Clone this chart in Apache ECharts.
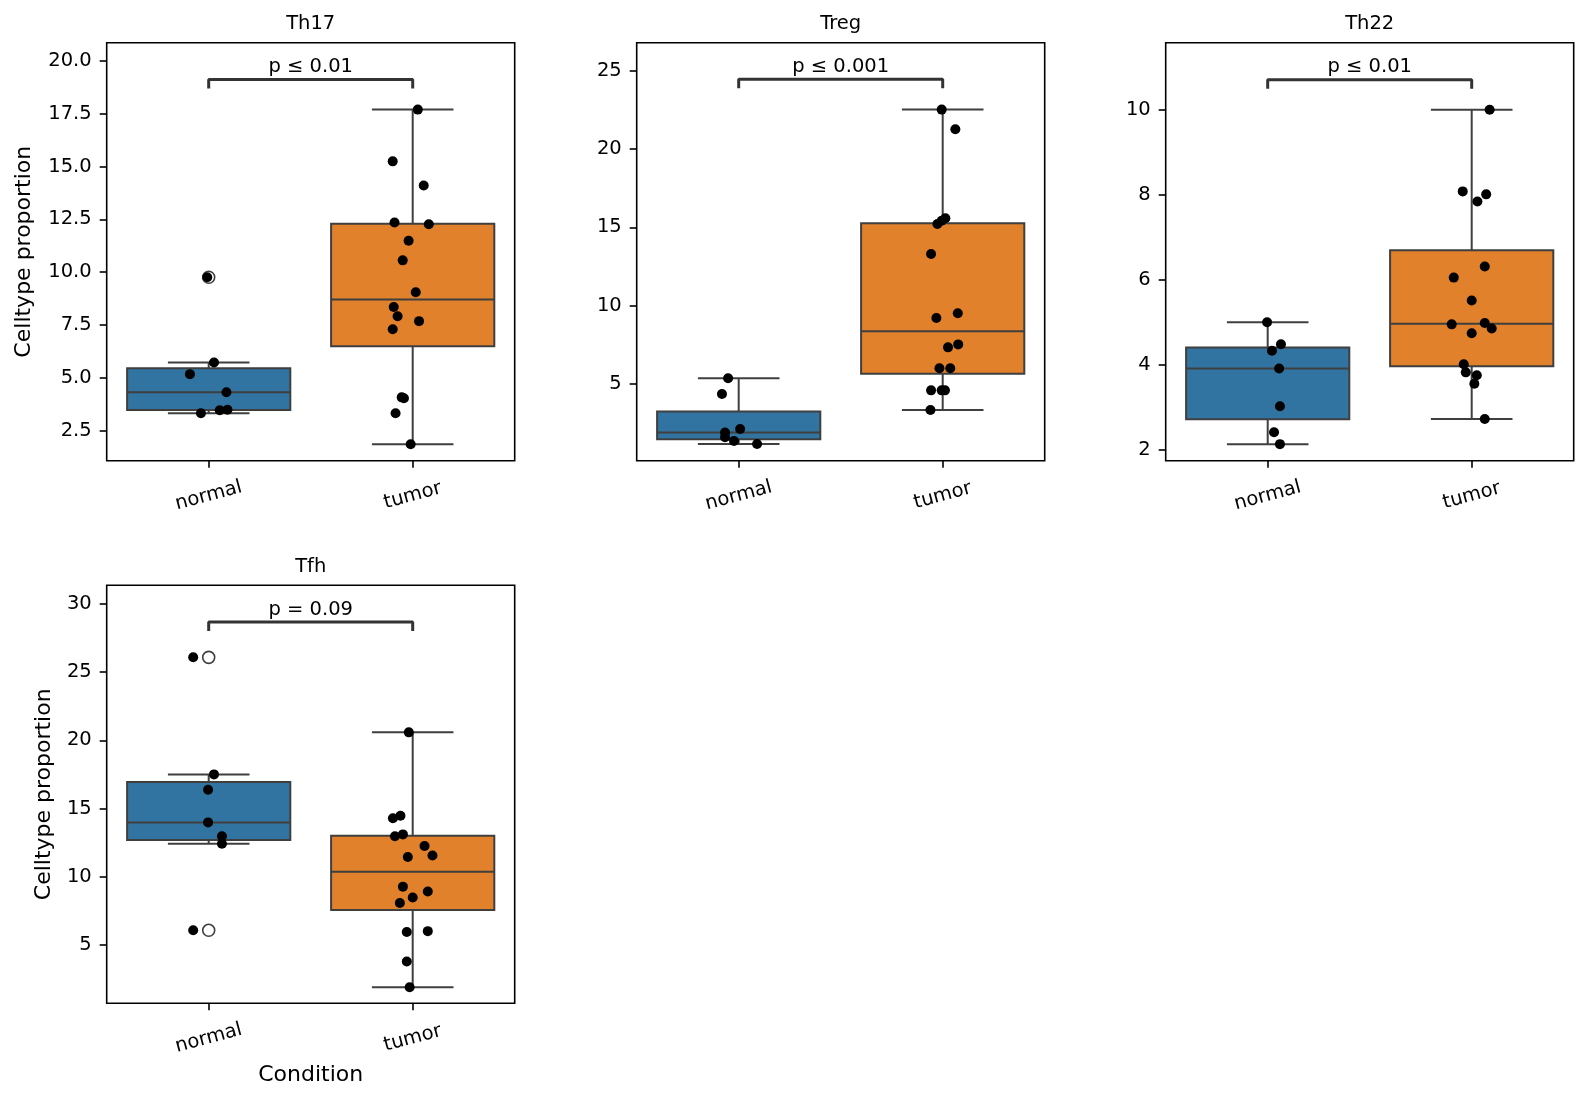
<!DOCTYPE html>
<html>
<head>
<meta charset="utf-8">
<title>Celltype proportion boxplots</title>
<script src="https://cdn.jsdelivr.net/npm/echarts@6/dist/echarts.min.js"></script>
<style>
  html, body { margin: 0; padding: 0; background: #fff; }
  #chart { width: 1588px; height: 1103px; }
</style>
</head>
<body>
<div id="chart"></div>
<script>
// ---- data ----
const categories = ['normal', 'tumor'];
const panelNames = ['Th17', 'Treg', 'Th22', 'Tfh'];
const pLabels = ['p \u2264 0.01', 'p \u2264 0.001', 'p \u2264 0.01', 'p = 0.09'];
const bracketY = [19.13, 24.47, 10.71, 28.68];

const th17Normal = [9.76, 5.72, 5.17, 4.31, 3.48, 3.46, 3.32];
const th17Tumor = [17.70, 15.25, 14.11, 12.35, 12.27, 11.49, 10.56, 9.05, 8.35, 7.91, 7.68, 7.30, 4.07, 4.03, 3.32, 1.85];
const tregNormal = [5.34, 4.34, 2.10, 1.87, 1.57, 1.33, 1.14];
const tregTumor = [22.53, 21.27, 15.58, 15.42, 15.21, 13.29, 9.50, 9.20, 7.51, 7.32, 5.98, 5.98, 4.57, 4.57, 4.57, 3.31];
const th22Normal = [5.00, 4.48, 4.33, 3.91, 3.02, 2.41, 2.13];
const th22Tumor = [10.00, 8.08, 8.01, 7.84, 6.31, 6.05, 5.51, 4.95, 4.98, 4.85, 4.74, 4.01, 3.82, 3.75, 3.55, 2.72];
const tfhNormal = [26.09, 17.51, 16.39, 13.99, 12.97, 12.43, 6.08];
const tfhTumor = [20.59, 14.48, 14.29, 13.11, 12.97, 12.26, 11.57, 11.45, 9.28, 8.93, 8.49, 8.08, 5.95, 6.02, 3.80, 1.90];

// strip jitter (category units), same order as the values
const th17NormalJit = [-0.007, 0.026, -0.092, 0.087, 0.092, 0.054, -0.038];
const th17TumorJit = [0.025, -0.098, 0.054, -0.089, 0.079, -0.020, -0.049, 0.015, -0.093, -0.074, 0.031, -0.098, -0.054, -0.043, -0.084, -0.010];
const tregNormalJit = [-0.052, -0.082, 0.007, -0.067, -0.067, -0.023, 0.090];
const tregTumorJit = [-0.005, 0.062, 0.013, -0.005, -0.026, -0.057, 0.074, -0.031, 0.076, 0.026, -0.016, 0.037, -0.057, -0.005, 0.011, -0.060];
const th22NormalJit = [-0.003, 0.065, 0.021, 0.056, 0.060, 0.031, 0.060];
const th22TumorJit = [0.088, -0.044, 0.071, 0.028, 0.064, -0.088, 0.000, -0.098, 0.064, 0.098, 0.000, -0.039, -0.029, 0.025, 0.013, 0.064];
const tfhNormalJit = [-0.076, 0.026, -0.003, -0.003, 0.065, 0.065, -0.076];
const tfhTumorJit = [-0.019, -0.060, -0.097, -0.048, -0.087, 0.058, 0.097, -0.024, -0.048, 0.074, 0.000, -0.063, -0.029, 0.074, -0.029, -0.015];

const yTicks = [
  [2.5, 5, 7.5, 10, 12.5, 15, 17.5, 20],
  [5, 10, 15, 20, 25],
  [2, 4, 6, 8, 10],
  [5, 10, 15, 20, 25, 30]
];

const panelValues = [[th17Normal, th17Tumor], [tregNormal, tregTumor], [th22Normal, th22Tumor], [tfhNormal, tfhTumor]];
const panelJitter = [[th17NormalJit, th17TumorJit], [tregNormalJit, tregTumorJit], [th22NormalJit, th22TumorJit], [tfhNormalJit, tfhTumorJit]];

// ---- layout / style ----
const yRanges = [[1.07, 20.87], [0.07, 26.81], [1.74, 11.58], [0.73, 31.37]];
const gridLeft = [106.7, 636.7, 1165.7, 106.7];
const gridTop = [42.7, 42.7, 42.7, 585.3];
const gridW = 408, gridH = 418;
const boxColors = ['#3274a1', '#e1812c'];
const lineColor = '#3f3f3f';
const FONT = 'DejaVu Sans';

// numpy-style linear quantile
function quantile(sorted, p) {
  const idx = (sorted.length - 1) * p;
  const lo = Math.floor(idx), hi = Math.ceil(idx);
  return sorted[lo] + (sorted[hi] - sorted[lo]) * (idx - lo);
}

function boxStats(vals) {
  const s = vals.slice().sort((a, b) => a - b);
  const q1 = quantile(s, 0.25), med = quantile(s, 0.5), q3 = quantile(s, 0.75);
  const iqr = q3 - q1;
  const lf = q1 - 1.5 * iqr, uf = q3 + 1.5 * iqr;
  const inl = s.filter(v => v >= lf && v <= uf);
  return {
    lo: inl[0], q1: q1, med: med, q3: q3, hi: inl[inl.length - 1],
    outliers: s.filter(v => v < lf || v > uf)
  };
}

function renderBox(params, api) {
  const x = api.value(0);
  const lo = api.value(1), q1 = api.value(2), med = api.value(3), q3 = api.value(4), hi = api.value(5);
  const ci = api.value(6);
  const half = 0.4, cap = 0.2;
  const tl = api.coord([x - half, q3]);
  const br = api.coord([x + half, q1]);
  const m1 = api.coord([x - half, med]), m2 = api.coord([x + half, med]);
  const pLo = api.coord([x, lo]), pQ1 = api.coord([x, q1]);
  const pQ3 = api.coord([x, q3]), pHi = api.coord([x, hi]);
  const cLo1 = api.coord([x - cap, lo]), cLo2 = api.coord([x + cap, lo]);
  const cHi1 = api.coord([x - cap, hi]), cHi2 = api.coord([x + cap, hi]);
  const ls = { stroke: lineColor, lineWidth: 2 };
  return {
    type: 'group',
    children: [
      { type: 'line', shape: { x1: pQ1[0], y1: pQ1[1], x2: pLo[0], y2: pLo[1] }, style: ls },
      { type: 'line', shape: { x1: pQ3[0], y1: pQ3[1], x2: pHi[0], y2: pHi[1] }, style: ls },
      { type: 'line', shape: { x1: cLo1[0], y1: cLo1[1], x2: cLo2[0], y2: cLo2[1] }, style: ls },
      { type: 'line', shape: { x1: cHi1[0], y1: cHi1[1], x2: cHi2[0], y2: cHi2[1] }, style: ls },
      { type: 'rect', shape: { x: tl[0], y: tl[1], width: br[0] - tl[0], height: br[1] - tl[1] },
        style: { fill: boxColors[ci], stroke: lineColor, lineWidth: 2 } },
      { type: 'line', shape: { x1: m1[0], y1: m1[1], x2: m2[0], y2: m2[1] }, style: ls }
    ]
  };
}

const grids = [], xAxes = [], yAxes = [], series = [], graphics = [];

panelNames.forEach(function (name, i) {
  grids.push({
    left: gridLeft[i], top: gridTop[i], width: gridW, height: gridH,
    containLabel: false, outerBoundsMode: 'none',
    show: true, borderColor: '#000', borderWidth: 1.6, backgroundColor: 'transparent'
  });

  xAxes.push({
    type: 'value', gridIndex: i, min: -0.5, max: 1.5,
    name: i === 3 ? 'Condition' : '',
    nameLocation: 'middle', nameGap: 61,
    nameTextStyle: { fontSize: 22, color: '#000', fontFamily: FONT },
    axisLine: { show: false, onZero: false },
    splitLine: { show: false },
    axisTick: { show: true, customValues: [0, 1], length: 7, lineStyle: { color: '#000', width: 1.6 } },
    axisLabel: {
      customValues: [0, 1],
      formatter: function (v) { return categories[Math.round(v)]; },
      rotate: 15, align: 'center', verticalAlign: 'middle', margin: 35,
      fontSize: 19.5, color: '#000', fontFamily: FONT
    }
  });

  yAxes.push({
    type: 'value', gridIndex: i, min: yRanges[i][0], max: yRanges[i][1],
    name: (i === 0 || i === 3) ? 'Celltype proportion' : '',
    nameLocation: 'middle', nameGap: i === 0 ? 71 : 51,
    nameTextStyle: { fontSize: 22, color: '#000', fontFamily: FONT },
    axisLine: { show: false, onZero: false },
    splitLine: { show: false },
    axisTick: { show: true, customValues: yTicks[i], length: 7, lineStyle: { color: '#000', width: 1.6 } },
    axisLabel: {
      customValues: yTicks[i],
      formatter: function (v) { return i === 0 ? v.toFixed(1) : String(v); },
      margin: 15, fontSize: 19.5, color: '#000', fontFamily: FONT
    }
  });

  // boxes
  const boxData = [], outData = [], ptData = [];
  panelValues[i].forEach(function (vals, ci) {
    const st = boxStats(vals);
    boxData.push([ci, st.lo, st.q1, st.med, st.q3, st.hi, ci]);
    st.outliers.forEach(v => outData.push([ci, v]));
    vals.forEach((v, k) => ptData.push([ci + panelJitter[i][ci][k], v]));
  });

  series.push({
    type: 'custom', xAxisIndex: i, yAxisIndex: i, z: 2,
    renderItem: renderBox, data: boxData,
    encode: { x: 0, y: [1, 5] }, silent: true
  });
  series.push({
    type: 'scatter', xAxisIndex: i, yAxisIndex: i, z: 3,
    data: outData, symbolSize: 12,
    itemStyle: { color: 'rgba(0,0,0,0)', borderColor: lineColor, borderWidth: 1.6, opacity: 1 },
    silent: true
  });
  series.push({
    type: 'scatter', xAxisIndex: i, yAxisIndex: i, z: 4,
    data: ptData, symbolSize: 10,
    itemStyle: { color: '#000', opacity: 1 }, silent: true
  });

  // significance bracket
  const b = bracketY[i];
  const d = 0.0215 * (yRanges[i][1] - yRanges[i][0]);
  series.push({
    type: 'line', xAxisIndex: i, yAxisIndex: i, z: 5,
    data: [[0, b - d], [0, b], [1, b], [1, b - d]],
    symbol: 'none', lineStyle: { color: '#333', width: 3, opacity: 1 }, silent: true
  });
  series.push({
    type: 'scatter', xAxisIndex: i, yAxisIndex: i, z: 5,
    data: [[0.5, b]], symbolSize: 1, itemStyle: { color: 'rgba(0,0,0,0)', opacity: 1 },
    label: { show: true, position: 'top', distance: 2, formatter: pLabels[i],
             fontSize: 19.5, color: '#000', opacity: 1, fontFamily: FONT },
    silent: true
  });

  graphics.push({
    type: 'text', x: gridLeft[i] + gridW / 2, y: gridTop[i] - 18.7,
    style: { text: name, font: '19.5px "' + FONT + '"', fill: '#000',
             align: 'center', textAlign: 'center', verticalAlign: 'middle', textVerticalAlign: 'middle' }
  });
});

const chart = echarts.init(document.getElementById('chart'), null, { renderer: 'canvas' });
chart.setOption({
  animation: false,
  backgroundColor: '#fff',
  textStyle: { fontFamily: FONT },
  grid: grids,
  xAxis: xAxes,
  yAxis: yAxes,
  series: series,
  graphic: graphics
});
</script>
</body>
</html>
